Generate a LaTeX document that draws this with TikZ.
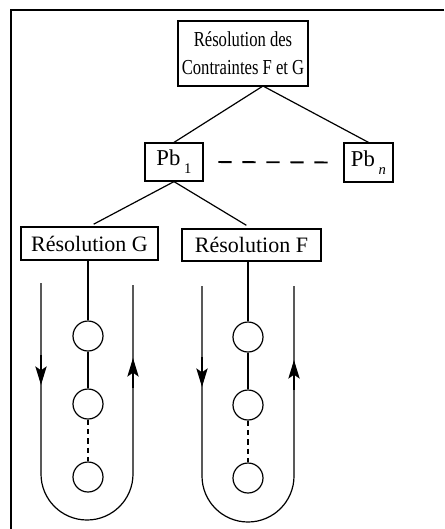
\documentclass[tikz,border=0pt]{standalone}
\usepackage{fontspec}
\setmainfont{Liberation Serif}
\usetikzlibrary{arrows.meta,calc}
\begin{document}
\begin{tikzpicture}[x=0.75pt,y=-0.75pt,
  box/.style={draw,line width=0.9pt,inner sep=0pt,align=center},
  circ/.style={draw,circle,line width=0.9pt,minimum size=22.5pt,inner sep=0pt},
  link/.style={line width=0.9pt},
  loop/.style={line width=0.9pt},
  tip/.style={line width=0.9pt,-{Stealth[length=14pt,width=8.5pt,inset=3pt]}}]
\useasboundingbox (0,0) rectangle (444,529);
% frame
\draw[line width=0.8pt] (444,10) -- (11,10) -- (11,529);
% top box
\node[box,minimum width=97.5pt,minimum height=48.75pt,font=\fontsize{16}{21}\selectfont] (top) at (243,53.5) {\scalebox{0.78}[1]{Résolution des}\\\scalebox{0.78}[1]{Contraintes F et G}};
\node[box,minimum width=43.5pt,minimum height=28.5pt,font=\fontsize{17}{18}\selectfont] (pb1) at (174,162) {Pb\,\raisebox{-6pt}{\fontsize{11}{12}\selectfont 1}};
\node[box,minimum width=36.75pt,minimum height=29.25pt,font=\fontsize{17}{18}\selectfont] (pbn) at (368.5,162.5) {Pb\,\raisebox{-6pt}{\fontsize{11}{12}\selectfont\itshape n}};
\node[box,minimum width=102.75pt,minimum height=24.75pt,font=\fontsize{16.5}{18}\selectfont] (resG) at (89.5,243.5) {Résolution G};
\node[box,minimum width=104.25pt,minimum height=24pt,font=\fontsize{16.5}{18}\selectfont] (resF) at (251.5,245) {Résolution F};
% tree links
\coordinate (apex) at (263,86);
\draw[link] (apex) -- (pb1.north);
\draw[link] (apex) -- (pbn.north);
\draw[link,shorten >=3.5pt] (pb1.south) -- (resG.north);
\draw[link,shorten >=4.5pt] (pb1.south) -- (resF.north);
\draw[line width=1.4pt,dash pattern=on 10pt off 8pt,shorten <=11pt,shorten >=10pt] (pb1.east) -- (pbn.west);
% left column
\node[circ] (g1) at (88,336) {};
\node[circ] (g2) at (88,404) {};
\node[circ] (g3) at (88,477) {};
\draw[link] (g1 |- resG.south) -- (g1.north);
\draw[link] (g1) -- (g2);
\draw[link,dash pattern=on 4pt off 3pt] (g2) -- (g3);
\coordinate (gl) at (41,283);
\coordinate (gr) at (133,285);
\draw[loop] (gl) -- (41,474) arc[start angle=180,end angle=360,radius=34.5pt] -- (gr);
\coordinate (gla) at (41,355);
\coordinate (glb) at (41,385);
\coordinate (gra) at (133,388);
\coordinate (grb) at (133,358);
\draw[tip] (gla) -- (glb);
\draw[tip] (gra) -- (grb);
% right column
\node[circ] (f1) at (248,337) {};
\node[circ] (f2) at (248,405) {};
\node[circ] (f3) at (248,478) {};
\draw[link] (f1 |- resF.south) -- (f1.north);
\draw[link] (f1) -- (f2);
\draw[link,dash pattern=on 4pt off 3pt] (f2) -- (f3);
\coordinate (fl) at (202,286);
\coordinate (fr) at (294,286);
\draw[loop] (fl) -- (202,476) arc[start angle=180,end angle=360,radius=34.5pt] -- (fr);
\coordinate (fla) at (202,357);
\coordinate (flb) at (202,387);
\coordinate (fra) at (294,390);
\coordinate (frb) at (294,360);
\draw[tip] (fla) -- (flb);
\draw[tip] (fra) -- (frb);
\end{tikzpicture}
\end{document}
